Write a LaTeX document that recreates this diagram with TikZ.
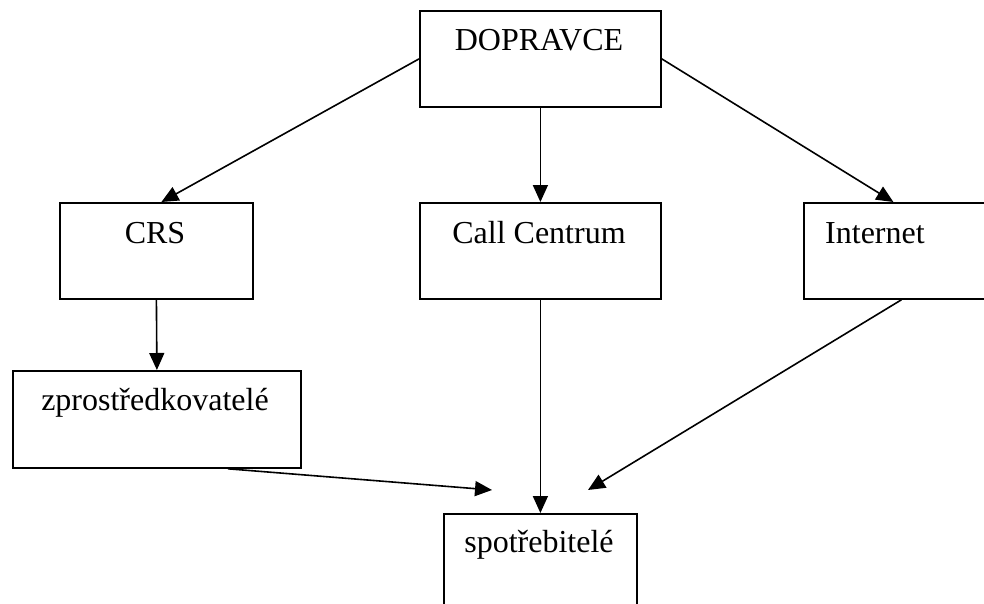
\documentclass[tikz,border=0pt]{standalone}
\usepackage{fontspec}
\setmainfont{Liberation Serif}
\usetikzlibrary{arrows.meta}
\begin{document}
\begin{tikzpicture}[x=1pt,y=-1pt,
  box/.style={draw,line width=1.8pt,rectangle,inner sep=0pt,anchor=north west},
  txt/.style={anchor=base,inner sep=0pt,font=\fontsize{32}{38}\selectfont},
  arr/.style={line width=1.6pt,-{Triangle[length=17pt,width=15pt]}}]
\useasboundingbox (0,0) rectangle (984,604);
% boxes
\node[box,minimum width=241pt,minimum height=96pt] (dop) at (419,10) {};
\node[box,minimum width=193pt,minimum height=96pt] (crs) at (59,202) {};
\node[box,minimum width=241pt,minimum height=96pt] (cc) at (419,202) {};
\node[box,minimum width=187pt,minimum height=96pt] (int) at (803,202) {};
\node[box,minimum width=288pt,minimum height=97pt] (zp) at (12,370) {};
\node[box,minimum width=193pt,minimum height=110pt] (sp) at (443,513) {};
% texts
\node[txt] (doptxt) at (539,51) {DOPRAVCE};
\node[txt] (crstxt) at (155,243) {CRS};
\node[txt] (cctxt) at (539,243) {Call Centrum};
\node[txt,anchor=base west] (inttxt) at (825,243) {Internet};
\node[txt] (zptxt) at (155,410) {zprostředkovatelé};
\node[txt] (sptxt) at (539,552) {spotřebitelé};
% free ends
\coordinate (e1) at (492,490);
\coordinate (e2) at (588,490);
% connectors
\draw[arr] (dop.west) -- ([xshift=5pt]crs.north);
\draw[arr] (dop.south) -- (cc.north);
\draw[arr] (dop.east) -- ([xshift=-4pt]int.north);
\draw[arr] (crs.south) -- (zp.north);
\draw[arr] (cc.south) -- (sp.north);
\draw[arr] ([xshift=71pt]zp.south) -- (e1);
\draw[arr] ([xshift=4pt]int.south) -- (e2);
\end{tikzpicture}
\end{document}
